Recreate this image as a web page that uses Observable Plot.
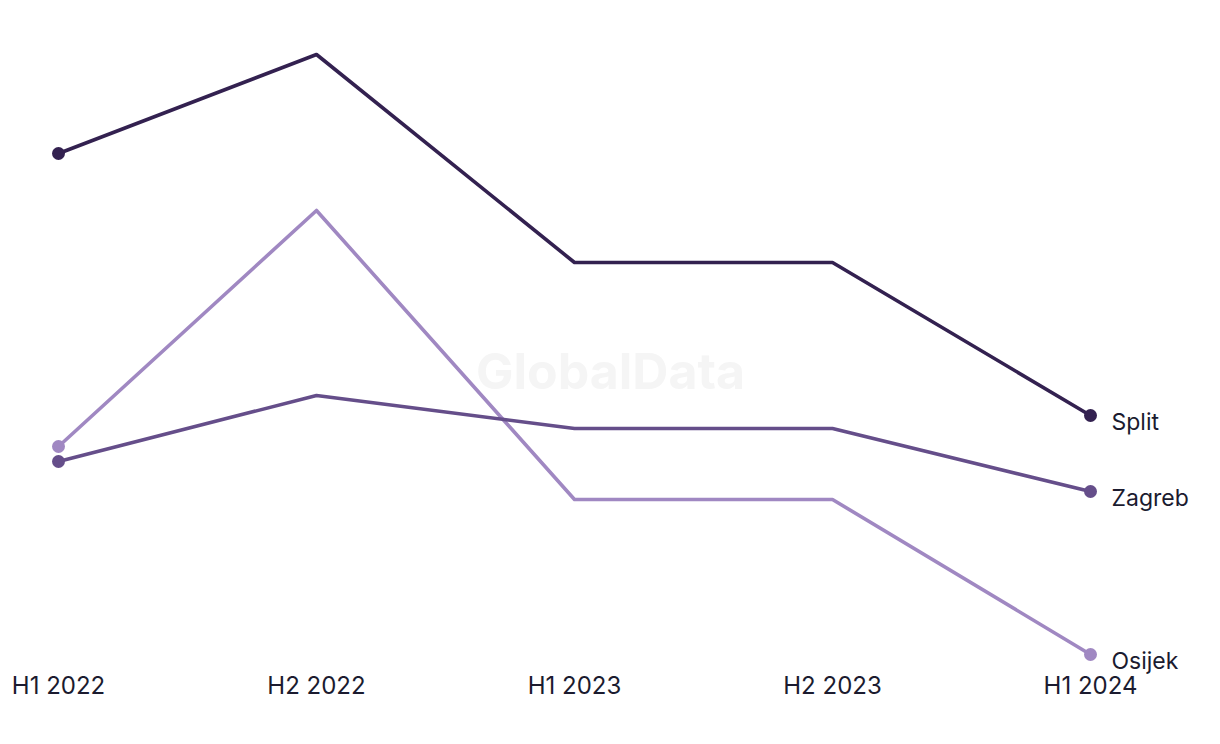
<!DOCTYPE html>
<html>
<head>
<meta charset="utf-8">
<script src="https://cdn.jsdelivr.net/npm/d3@7"></script>
<script src="https://cdn.jsdelivr.net/npm/@observablehq/plot@0.6"></script>
<style>
  html, body { margin: 0; padding: 0; background: #ffffff; }
  #chart { width: 1220px; height: 744px; }
  svg { font-family: Inter, "Noto Sans", sans-serif; }
</style>
</head>
<body>
<div id="chart"></div>
<script>
const periods = ["H1 2022", "H2 2022", "H1 2023", "H2 2023", "H1 2024"];
const seriesNames = ["Osijek", "Zagreb", "Split"];
const osijek = [25.4, 49.0, 20.1, 20.1, 4.6];
const zagreb = [23.9, 30.5, 27.2, 27.2, 20.9];
const split  = [54.7, 64.6, 43.8, 43.8, 28.5];
const colors = ["#a088c2", "#654e8a", "#332150"];

const valuesBySeries = {Osijek: osijek, Zagreb: zagreb, Split: split};
const rows = seriesNames.flatMap(s => periods.map((p, i) => ({series: s, period: p, value: valuesBySeries[s][i]})));
const last = rows.filter(d => d.period === periods[periods.length - 1]);

const chart = Plot.plot({
  width: 1220,
  height: 744,
  marginLeft: 58,
  marginRight: 130,
  marginTop: 54,
  marginBottom: 90,
  style: {background: "#ffffff", color: "#1b1b2f"},
  x: {type: "point", domain: periods, padding: 0, label: null},
  y: {domain: [4.6, 64.6], axis: null},
  color: {domain: seriesNames, range: colors},
  marks: [
    Plot.text(["GlobalData"], {frameAnchor: "middle", dx: 36, dy: 18, fontSize: 50, fontWeight: "bold", fill: "#f5f5f5"}),
    Plot.axisX({tickSize: 0, tickPadding: 22, fontSize: 24, fill: "#1b1b2f"}),
    ...seriesNames.map(s => Plot.line(rows.filter(d => d.series === s), {x: "period", y: "value", stroke: "series", strokeWidth: 3.6})),
    ...seriesNames.map(s => Plot.dot(rows.filter(d => d.series === s && (d.period === periods[0] || d.period === periods[periods.length - 1])), {x: "period", y: "value", fill: "series", r: 6.5})),
    Plot.text(last, {x: "period", y: "value", text: "series", textAnchor: "start", dx: 21, dy: 7, fontSize: 23, fill: "#1b1b2f"})
  ]
});
document.getElementById("chart").appendChild(chart);
</script>
</body>
</html>
